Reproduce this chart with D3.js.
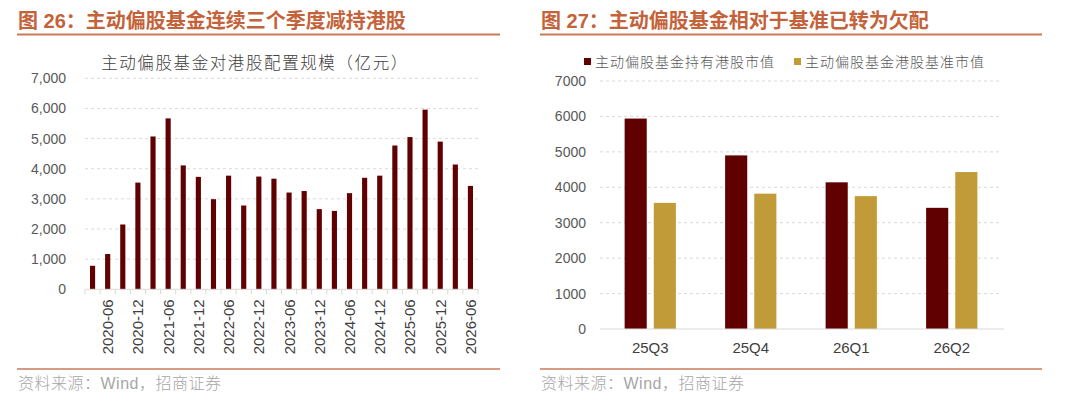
<!DOCTYPE html>
<html><head><meta charset="utf-8">
<script src="https://cdn.jsdelivr.net/npm/d3@7"></script>
<style>
body{margin:0;background:#fff;}
svg{display:block;font-family:"Liberation Sans","Noto Sans CJK SC",sans-serif;}
</style></head><body>
<svg id="c" width="1080" height="403"></svg>
<script>
// Left chart data
const leftCats = ["2020-03","2020-06","2020-09","2020-12","2021-03","2021-06","2021-09","2021-12","2022-03","2022-06","2022-09","2022-12","2023-03","2023-06","2023-09","2023-12","2024-03","2024-06","2024-09","2024-12","2025-03","2025-06","2025-09","2025-12","2026-03","2026-06"];
const leftVals = [780,1170,2150,3540,5070,5670,4110,3730,2990,3770,2780,3740,3670,3210,3260,2660,2600,3190,3700,3770,4770,5050,5960,4900,4140,3430];
const leftTicks = [0,1000,2000,3000,4000,5000,6000,7000];
// Right chart data
const rightCats = ["25Q3","25Q4","26Q1","26Q2"];
const seriesNames = ["主动偏股基金持有港股市值","主动偏股基金港股基准市值"];
const heldVals = [5940,4900,4140,3420];
const benchVals = [3560,3820,3750,4430];
const rightTicks = [0,1000,2000,3000,4000,5000,6000,7000];

const darkRed = "#600000", gold = "#c19b38";
const titleColor = "#c4623a", ruleColor = "#c97a5b";
const svg = d3.select("#c");

// Headers
function header(x0, x1, text){
  svg.append("text").attr("x", x0).attr("y", 28).attr("fill", titleColor)
    .attr("font-size", 20).attr("font-weight", "bold").text(text);
  svg.append("line").attr("x1", x0-1).attr("x2", x1).attr("y1", 34.5).attr("y2", 34.5)
    .attr("stroke", ruleColor).attr("stroke-width", 2);
  svg.append("line").attr("x1", x0-1).attr("x2", x1).attr("y1", 369).attr("y2", 369)
    .attr("stroke", ruleColor).attr("stroke-width", 1.3);
  svg.append("text").attr("x", x0).attr("y", 389).attr("fill", "#a6a6a6")
    .attr("font-size", 16).attr("letter-spacing", 0.5).attr("font-weight", 300).text("资料来源：Wind，招商证券");
}
header(18, 500, "图 26：主动偏股基金连续三个季度减持港股");
header(541, 1042, "图 27：主动偏股基金相对于基准已转为欠配");

// ---------- Left chart ----------
const L = {x0:85, x1:478, y0:289.3, y1:78.3};
const xl = d3.scaleBand().domain(leftCats).range([L.x0, L.x1]).paddingInner(0.66).paddingOuter(0.33);
const yl = d3.scaleLinear().domain([0,7000]).range([L.y0, L.y1]);
const gl = svg.append("g");
gl.append("text").attr("x", 255).attr("y", 69).attr("text-anchor","middle")
  .attr("font-size", 16.5).attr("fill", "#404040").attr("letter-spacing", 1.6).attr("font-weight", 300)
  .text("主动偏股基金对港股配置规模（亿元）");
// grid
gl.append("g").selectAll("line").data(leftTicks.filter(d=>d>0)).join("line")
  .attr("x1", L.x0).attr("x2", L.x1).attr("y1", d=>yl(d)).attr("y2", d=>yl(d))
  .attr("stroke", "#d9d9d9").attr("stroke-dasharray", "3,3");
const yAxL = d3.axisLeft(yl).tickValues(leftTicks).tickFormat(d3.format(",")).tickSize(0).tickPadding(0);
gl.append("g").attr("transform", `translate(${L.x0-19},0)`).call(yAxL)
  .call(g=>g.select(".domain").remove())
  .call(g=>g.selectAll("text").attr("font-size", 14).attr("fill", "#595959").attr("font-family","Liberation Sans"));
// bars
gl.append("g").selectAll("rect").data(leftVals).join("rect")
  .attr("x", (d,i)=>xl(leftCats[i])).attr("width", xl.bandwidth())
  .attr("y", d=>yl(d)).attr("height", d=>L.y0 - yl(d)).attr("fill", darkRed);
// x axis line + ticks at boundaries
gl.append("line").attr("x1", L.x0).attr("x2", L.x1).attr("y1", L.y0).attr("y2", L.y0)
  .attr("stroke", "#d9d9d9").attr("stroke-width", 1);
const step = xl.step();
const bounds = d3.range(leftCats.length+1).map(i=>L.x0 + i*step);
gl.append("g").selectAll("line").data(bounds).join("line")
  .attr("x1", d=>d).attr("x2", d=>d).attr("y1", L.y0).attr("y2", L.y0+5)
  .attr("stroke", "#d9d9d9");
// labels every other
gl.append("g").selectAll("text").data(leftCats.filter((d,i)=>i%2===1)).join("text")
  .attr("transform", d=>`translate(${xl(d)+xl.bandwidth()/2+5.5},${L.y0+10}) rotate(-90)`)
  .attr("text-anchor", "end").attr("font-size", 15).attr("fill", "#404040")
  .text(d=>d);

// ---------- Right chart ----------
const R = {x0:600, x1:1002, y0:329, y1:81};
const xr = d3.scaleBand().domain(rightCats).range([R.x0, R.x1]).paddingInner(0.49).paddingOuter(0.245);
const xs = d3.scaleBand().domain([0,1]).range([0, xr.bandwidth()]).paddingInner(0.241);
const yr = d3.scaleLinear().domain([0,7000]).range([R.y0, R.y1]);
const gr = svg.append("g");
gr.append("g").selectAll("line").data(rightTicks.filter(d=>d>0)).join("line")
  .attr("x1", R.x0).attr("x2", R.x1).attr("y1", d=>yr(d)).attr("y2", d=>yr(d))
  .attr("stroke", "#d9d9d9").attr("stroke-dasharray", "3,3");
const yAxR = d3.axisLeft(yr).tickValues(rightTicks).tickFormat(d3.format("d")).tickSize(0).tickPadding(0);
gr.append("g").attr("transform", `translate(${R.x0-14},0)`).call(yAxR)
  .call(g=>g.select(".domain").remove())
  .call(g=>g.selectAll("text").attr("font-size", 14).attr("fill", "#595959").attr("font-family","Liberation Sans"));
const series = [heldVals, benchVals];
const colors = [darkRed, gold];
series.forEach((vals, s)=>{
  gr.append("g").selectAll("rect").data(vals).join("rect")
    .attr("x", (d,i)=>xr(rightCats[i]) + xs(s)).attr("width", xs.bandwidth())
    .attr("y", d=>yr(d)).attr("height", d=>R.y0 - yr(d)).attr("fill", colors[s]);
});
gr.append("line").attr("x1", R.x0).attr("x2", R.x1+2).attr("y1", R.y0).attr("y2", R.y0)
  .attr("stroke", "#d9d9d9").attr("stroke-width", 1);
const xAxR = d3.axisBottom(xr).tickSize(0).tickPadding(13);
gr.append("g").attr("transform", `translate(0,${R.y0})`).call(xAxR)
  .call(g=>g.select(".domain").remove())
  .call(g=>g.selectAll("text").attr("font-size", 15).attr("fill", "#404040").attr("font-family","Liberation Sans"));
// legend
const legX = [584, 794];
seriesNames.forEach((n, s)=>{
  gr.append("rect").attr("x", legX[s]).attr("y", 58).attr("width", 7).attr("height", 7).attr("fill", colors[s]);
  gr.append("text").attr("x", legX[s]+11).attr("y", 67).attr("font-size", 14).attr("letter-spacing", 1)
    .attr("font-weight", 300).attr("fill", "#595959").text(n);
});
</script>
</body></html>
